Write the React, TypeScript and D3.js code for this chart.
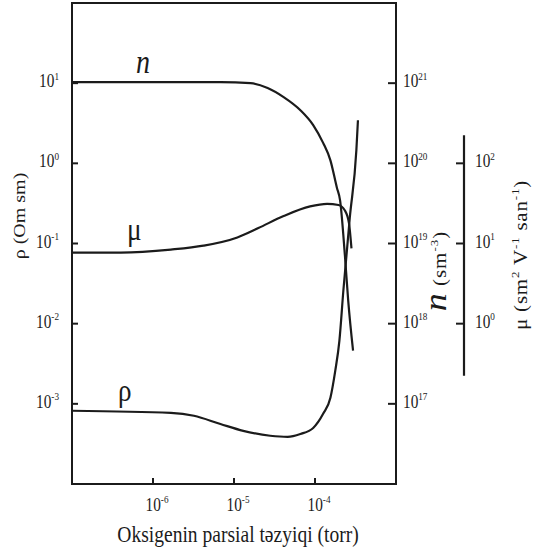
import React from 'react';
import * as d3 from 'd3';

const W = 533;
const H = 554;
const box = { left: 72, right: 396, top: 3, bottom: 484 };

// oxygen partial pressure (torr) -> values
const nPressure = [1e-7, 1e-6, 6.8e-6, 1.6e-5, 2.6e-5, 4.1e-5, 6.6e-5, 9.5e-5, 1.26e-4, 1.55e-4, 1.86e-4, 2.04e-4, 2.34e-4, 2.57e-4, 2.95e-4];
const nValues = [1.03e21, 1.03e21, 1.03e21, 1.0e21, 8.7e20, 6.7e20, 4.6e20, 3.0e20, 1.8e20, 1.09e20, 5.0e19, 3.45e19, 7.1e18, 1.94e18, 4.6e17];

const muPressure = [1e-7, 4.0e-7, 1.66e-6, 4.2e-6, 1.1e-5, 2.0e-5, 4.1e-5, 8.7e-5, 1.41e-4, 1.95e-4, 2.34e-4, 2.63e-4, 2.82e-4];
const muValues = [7.7, 7.7, 8.4, 9.4, 11.9, 15.6, 22.0, 29.0, 31.2, 30.2, 25.8, 17.8, 8.7];

const rhoPressure = [1e-7, 1.66e-6, 3.2e-6, 6.8e-6, 1.3e-5, 2.8e-5, 4.6e-5, 6.6e-5, 9.5e-5, 1.26e-4, 1.55e-4, 1.78e-4, 2.0e-4, 2.24e-4, 2.69e-4, 3.24e-4, 3.39e-4];
const rhoValues = [8.2e-4, 7.7e-4, 7.1e-4, 5.6e-4, 4.6e-4, 4.0e-4, 3.87e-4, 4.2e-4, 5.0e-4, 7.5e-4, 1.19e-3, 2.59e-3, 6.1e-3, 2.59e-2, 0.211, 1.45, 3.45];

// tick exponents
const xTicks = [-6, -5, -4];
const rhoTicks = [1, 0, -1, -2, -3];
const nTicks = [21, 20, 19, 18, 17];
const muTicks = [2, 1, 0];
const muAxisExtent = [0.224, 224];

const FONT = 'Liberation Serif';
const SX = 0.85; // the scanned figure is squeezed horizontally
const INK = '#1b1b1b';

function Pow({ x, y, exp, anchor = 'start', size = 18 }) {
  return (
    <text transform={`translate(${x},${y}) scale(${SX},1)`} textAnchor={anchor}
      fontFamily={FONT} fontSize={size} fill={INK}>
      10<tspan dy={-size * 0.42} fontSize={size * 0.6}>{exp}</tspan>
    </text>
  );
}

export default function App() {
  const x = d3.scaleLog().domain([1e-7, 1e-3]).range([box.left, box.right]);
  const yRho = d3.scaleLog().domain([1e-4, 1e2]).range([box.bottom, box.top]);
  const yN = d3.scaleLog().domain([1e16, 1e22]).range([box.bottom, box.top]);
  const yMu = d3.scaleLog().domain([1e-2, 1e4]).range([box.bottom, box.top]);

  const mk = (ps, vs, y) =>
    d3.line().curve(d3.curveMonotoneX)(ps.map((p, i) => [x(p), y(vs[i])]));

  const muX = 464;

  return (
    <svg width={W} height={H} style={{ position: 'absolute', left: 0, top: 0, background: '#fff' }}>
      {/* frame */}
      <rect x={box.left} y={box.top} width={box.right - box.left} height={box.bottom - box.top}
        fill="none" stroke={INK} strokeWidth={2} />

      {/* curves */}
      <path d={mk(nPressure, nValues, yN)} fill="none" stroke={INK} strokeWidth={2.2} />
      <path d={mk(muPressure, muValues, yMu)} fill="none" stroke={INK} strokeWidth={2.2} />
      <path d={mk(rhoPressure, rhoValues, yRho)} fill="none" stroke={INK} strokeWidth={2.2} />

      {/* left rho axis */}
      {rhoTicks.map(e => (
        <g key={'r' + e}>
          <line x1={box.left} x2={box.left + 6} y1={yRho(10 ** e)} y2={yRho(10 ** e)} stroke={INK} strokeWidth={2} />
          <Pow x={59} y={yRho(10 ** e) + 4} exp={e >= 0 ? String(e) : '-' + -e} anchor="end" />
        </g>
      ))}

      {/* right n axis */}
      {nTicks.map(e => (
        <g key={'n' + e}>
          <line x1={box.right - 8} x2={box.right} y1={yN(10 ** e)} y2={yN(10 ** e)} stroke={INK} strokeWidth={2} />
          <Pow x={403} y={yN(10 ** e) + 4} exp={String(e)} />
        </g>
      ))}

      {/* mu axis */}
      <line x1={muX} x2={muX} y1={yMu(muAxisExtent[1])} y2={yMu(muAxisExtent[0])} stroke={INK} strokeWidth={2.2} />
      {muTicks.map(e => (
        <g key={'m' + e}>
          <line x1={muX - 8} x2={muX} y1={yMu(10 ** e)} y2={yMu(10 ** e)} stroke={INK} strokeWidth={2} />
          <Pow x={475} y={yMu(10 ** e) + 4} exp={String(e)} />
        </g>
      ))}

      {/* bottom axis */}
      {xTicks.map(e => (
        <g key={'x' + e}>
          <line x1={x(10 ** e)} x2={x(10 ** e)} y1={box.bottom} y2={box.bottom - 6} stroke={INK} strokeWidth={2} />
          <Pow x={x(10 ** e) + 4} y={511} exp={'-' + -e} anchor="middle" />
        </g>
      ))}

      {/* curve labels */}
      <text transform={`translate(136,73) scale(${SX},1)`} fontFamily={FONT} fontStyle="italic" fontSize={33} fill={INK}>n</text>
      <text transform={`translate(127,240) scale(${SX},1)`} fontFamily={FONT} fontSize={32} fill={INK}>μ</text>
      <text transform={`translate(118,401) scale(${SX},1)`} fontFamily={FONT} fontSize={32} fill={INK}>ρ</text>

      {/* axis titles */}
      <text transform={`translate(238,542) scale(${SX},1)`} textAnchor="middle" fontFamily={FONT} fontSize={23} fill={INK}>
        Oksigenin parsial təzyiqi (torr)
      </text>
      <text transform={`translate(25,216) rotate(-90) scale(1,${SX})`} textAnchor="middle" fontFamily={FONT} fontSize={20} fill={INK}>
        ρ (Om sm)
      </text>
      <text transform={`translate(446,271) rotate(-90) scale(1,${SX})`} textAnchor="middle" fontFamily={FONT} fontSize={21} letterSpacing={1} fill={INK}>
        <tspan fontStyle="italic" fontSize={36}>n</tspan> (sm<tspan dy={-9} fontSize={13}>-3</tspan><tspan dy={9}>)</tspan>
      </text>
      <text transform={`translate(527,255) rotate(-90) scale(1,${SX})`} textAnchor="middle" fontFamily={FONT} fontSize={21} letterSpacing={0.8} fill={INK}>
        μ (sm<tspan dy={-9} fontSize={13}>2</tspan><tspan dy={9}> V</tspan><tspan dy={-9} fontSize={13}>-1</tspan><tspan dy={9}> san</tspan><tspan dy={-9} fontSize={13}>-1</tspan><tspan dy={9}>)</tspan>
      </text>
    </svg>
  );
}
